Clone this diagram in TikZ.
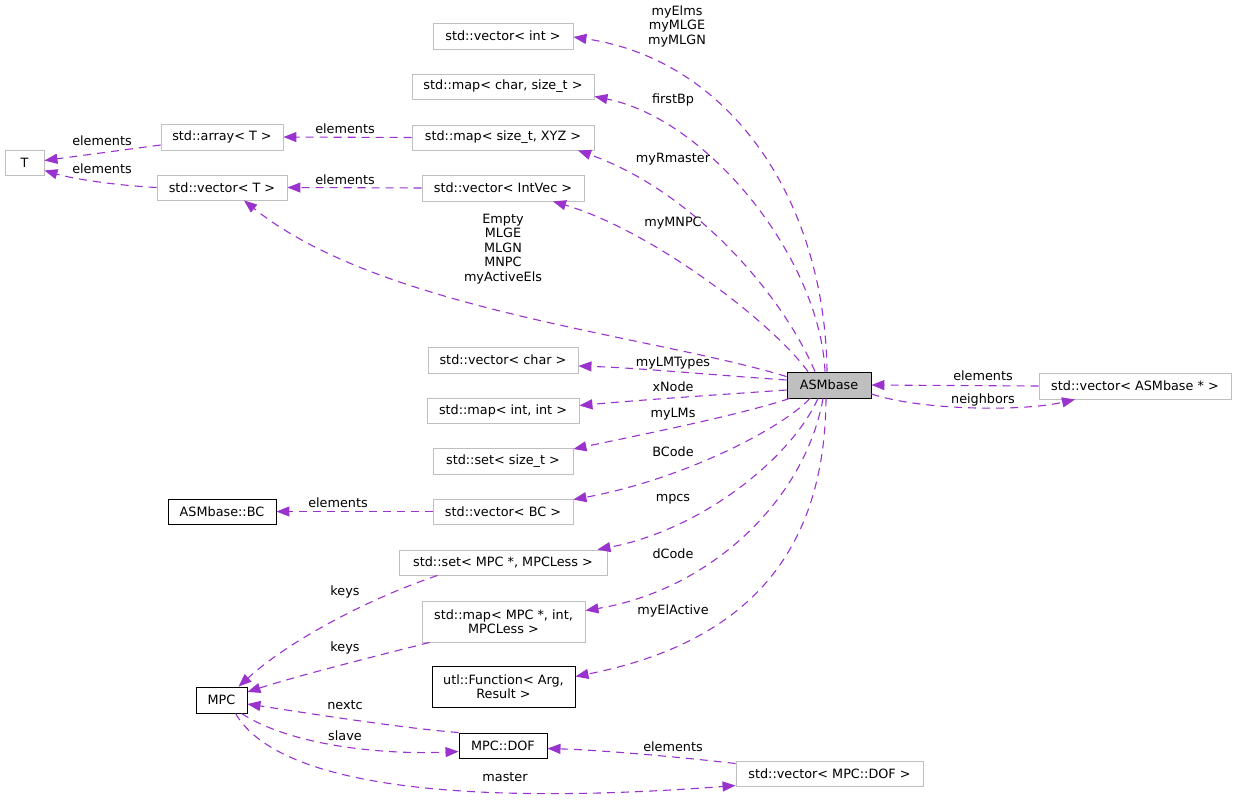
\documentclass[tikz,border=0pt]{standalone}
\usepackage{fontspec}
\setmainfont{DejaVu Sans}
\usetikzlibrary{arrows.meta,calc}
\definecolor{edgec}{HTML}{9A32CD}
\definecolor{grayb}{HTML}{BFBFBF}
\begin{document}
\begin{tikzpicture}[x=1pt,y=-1pt,
  font=\fontsize{12.8}{14.5}\selectfont,
  box/.style={draw=grayb, line width=0.9pt, fill=white, inner sep=0pt, align=center},
  dbox/.style={draw=black, line width=0.9pt, fill=white, inner sep=0pt, align=center},
  edge/.style={draw=edgec, line width=1.1pt, dash pattern=on 8pt off 6pt, -{Triangle[length=13pt,width=10pt]}},
  lab/.style={inner sep=0pt, align=center}]
\useasboundingbox (0,0) rectangle (1237,801);

% nodes
\node[box, minimum width=39, minimum height=25] (T) at (24.5,162.5) {T};
\node[box, minimum width=122, minimum height=26] (arr) at (222,137) {std::array< T >};
\node[box, minimum width=130, minimum height=25] (vT) at (222,187.5) {std::vector< T >};
\node[box, minimum width=140, minimum height=26] (vint) at (503,36) {std::vector< int >};
\node[box, minimum width=182, minimum height=25] (mchar) at (503,86.5) {std::map< char, size\_t >};
\node[box, minimum width=182, minimum height=25] (mxyz) at (503,137.5) {std::map< size\_t, XYZ >};
\node[box, minimum width=162, minimum height=26] (vintvec) at (503,188) {std::vector< IntVec >};
\node[box, minimum width=150, minimum height=26] (vchar) at (503,360) {std::vector< char >};
\node[box, minimum width=152, minimum height=25] (mii) at (503,410.5) {std::map< int, int >};
\node[box, minimum width=140, minimum height=26] (sst) at (503,461) {std::set< size\_t >};
\node[box, minimum width=140, minimum height=25] (vbc) at (503,511.5) {std::vector< BC >};
\node[dbox, minimum width=108, minimum height=25] (bc) at (222,511.5) {ASMbase::BC};
\node[box, minimum width=208, minimum height=25] (smpc) at (503,562.5) {std::set< MPC *, MPCLess >};
\node[box, minimum width=163, minimum height=41] (mmpc) at (503.5,621.5) {std::map< MPC *, int,\\MPCLess >};
\node[dbox, minimum width=143, minimum height=41] (fn) at (503.5,686.5) {utl::Function< Arg,\\Result >};
\node[dbox, minimum width=51, minimum height=26] (mpc) at (221.5,700) {MPC};
\node[dbox, minimum width=88, minimum height=25] (dof) at (503,745.5) {MPC::DOF};
\node[box, minimum width=187, minimum height=25] (vdof) at (829.5,773.5) {std::vector< MPC::DOF >};
\node[dbox, fill=grayb, minimum width=84, minimum height=26] (asm) at (829,385) {ASMbase};
\node[box, minimum width=192, minimum height=26] (vasm) at (1135,386) {std::vector< ASMbase * >};

% edges from ASMbase (upper)
\draw[edge] ($(asm.north)+(-2,0)$) .. controls (825,200) and (730,60) .. ($(vint.east)+(0,1)$);
\draw[edge] ($(asm.north)+(-4,0)$) .. controls (820,260) and (710,120) .. ($(mchar.south east)+(0,-3)$);
\draw[edge] ($(asm.north)+(-14,0)$) .. controls (780,290) and (690,190) .. ($(mxyz.south)+(75,0)$);
\draw[edge] ($(asm.north)+(-21,0)$) .. controls (770,320) and (650,230) .. ($(vintvec.south)+(50,0)$);
\draw[edge] ($(asm.north west)+(0,5)$) .. controls (650,335) and (380,310) .. ($(vT.south)+(22,0)$);
% edges from ASMbase (lower)
\draw[edge] ($(asm.west)+(0,-5)$) .. controls (700,374) and (640,368) .. ($(vchar.east)+(0,6)$);
\draw[edge] ($(asm.west)+(0,5)$) .. controls (700,396) and (640,400) .. ($(mii.east)+(0,-5)$);
\draw[edge] ($(asm.south west)+(3,0)$) .. controls (740,415) and (640,435) .. ($(sst.east)+(0,-12)$);
\draw[edge] ($(asm.south)+(-19,0)$) .. controls (780,430) and (680,480) .. ($(vbc.east)+(0,-12)$);
\draw[edge] ($(asm.south)+(-11,0)$) .. controls (790,460) and (700,530) .. ($(smpc.north east)+(-10,0)$);
\draw[edge] ($(asm.south)+(-6,0)$) .. controls (805,500) and (710,590) .. ($(mmpc.east)+(0,-11)$);
\draw[edge] ($(asm.south)+(-3,0)$) .. controls (825,540) and (760,640) .. ($(fn.east)+(0,-10)$);
% ASMbase <-> vector<ASMbase*>
\draw[edge] ($(asm.east)+(0,9)$) .. controls (920,410) and (1020,412) .. ($(vasm.south)+(-60,0)$);
\draw[edge] (vasm.west) -- (asm.east);
% T related
\draw[edge] ($(arr.west)+(0,8)$) -- ($(T.east)+(0,-2)$);
\draw[edge] (vT.west) .. controls (110,185) and (70,178) .. ($(T.south east)+(0,-5)$);
\draw[edge] (mxyz.west) -- (arr.east);
\draw[edge] (vintvec.west) -- (vT.east);
\draw[edge] (vbc.west) -- (bc.east);
% MPC related
\draw[edge] ($(smpc.south west)+(39,0)$) .. controls (370,598) and (290,640) .. ($(mpc.north)+(17,0)$);
\draw[edge] ($(mmpc.south west)+(8,0)$) .. controls (380,655) and (300,675) .. ($(mpc.east)+(0,-8)$);
\draw[edge] (dof.north west) .. controls (400,728) and (300,712) .. ($(mpc.east)+(0,4)$);
\draw[edge] ($(mpc.south)+(20,0)$) .. controls (290,745) and (380,755) .. ($(dof.west)+(0,6)$);
\draw[edge] ($(vdof.west)+(0,-10)$) .. controls (680,757) and (600,750) .. ($(dof.east)+(0,3)$);
\draw[edge] ($(mpc.south)+(14,0)$) .. controls (280,790) and (480,805) .. ($(vdof.west)+(0,12)$);

% labels
\node[lab] (l1) at (677,26) {myElms\\myMLGE\\myMLGN};
\node[lab] (l2) at (673,100) {firstBp};
\node[lab] (l3) at (673,159) {myRmaster};
\node[lab] (l4) at (673,223) {myMNPC};
\node[lab] (l5) at (503,249) {Empty\\MLGE\\MLGN\\MNPC\\myActiveEls};
\node[lab] (l6) at (673,363) {myLMTypes};
\node[lab] (l7) at (673,387) {xNode};
\node[lab] (l8) at (673,414) {myLMs};
\node[lab] (l9) at (673,452) {BCode};
\node[lab] (l10) at (673,499) {mpcs};
\node[lab] (l11) at (673,554) {dCode};
\node[lab] (l12) at (673,611) {myElActive};
\node[lab] (l13) at (983,376) {elements};
\node[lab] (l14) at (983,400) {neighbors};
\node[lab] (l15) at (102,141) {elements};
\node[lab] (l16) at (102,169) {elements};
\node[lab] (l17) at (345,129) {elements};
\node[lab] (l18) at (345,180) {elements};
\node[lab] (l19) at (338,503) {elements};
\node[lab] (l20) at (345,592) {keys};
\node[lab] (l21) at (345,648) {keys};
\node[lab] (l22) at (345,705) {nextc};
\node[lab] (l23) at (345,736) {slave};
\node[lab] (l24) at (505,777) {master};
\node[lab] (l25) at (673,747) {elements};
\end{tikzpicture}
\end{document}
